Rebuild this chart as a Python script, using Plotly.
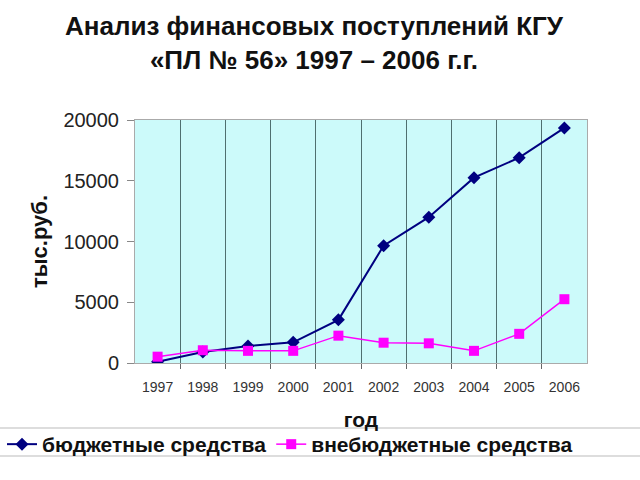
import plotly.graph_objects as go

years = [1997, 1998, 1999, 2000, 2001, 2002, 2003, 2004, 2005, 2006]
year_labels = [str(y) for y in years]
budget = [100, 900, 1400, 1700, 3550, 9650, 12000, 15250, 16900, 19350]
offbudget = [520, 1050, 1000, 1000, 2250, 1670, 1620, 1000, 2400, 5250]
y_ticks = [0, 5000, 10000, 15000, 20000]
boundaries = [y + 0.5 for y in years[:-1]]

W, H = 640, 480
L, R, T, B = 135, 53, 120, 117
pw, ph = W - L - R, H - T - B

def px_x(p):
    return (p - L) / pw

def px_y(p):
    return (H - B - p) / ph

fig = go.Figure()
fig.add_trace(go.Scatter(
    x=years, y=budget, name="бюджетные средства", mode="lines+markers",
    line=dict(color="#000080", width=2),
    marker=dict(symbol="diamond", size=10, color="#000080"),
))
fig.add_trace(go.Scatter(
    x=years, y=offbudget, name="внебюджетные средства", mode="lines+markers",
    line=dict(color="#FF00FF", width=1.5),
    marker=dict(symbol="square", size=10, color="#FF00FF"),
))

fig.update_layout(
    width=W, height=H,
    margin=dict(l=L, r=R, t=T, b=B, autoexpand=False),
    paper_bgcolor="white",
    plot_bgcolor="#CCFAFA",
    font=dict(family="Liberation Sans, Arial, sans-serif", color="#000"),
    showlegend=True,
    legend=dict(
        orientation="h", x=px_x(2), xanchor="left", y=px_y(424), yanchor="top",
        font=dict(size=21, color="#111", weight="bold"),
        bgcolor="rgba(255,255,255,0)", itemwidth=30, tracegroupgap=0,
    ),
    annotations=[
        dict(text="<b>Анализ финансовых поступлений КГУ<br>«ПЛ № 56» 1997 – 2006 г.г.</b>",
             xref="paper", yref="paper", x=px_x(314), y=px_y(9),
             xanchor="center", yanchor="top", showarrow=False,
             font=dict(size=26, color="#111")),
    ],
    shapes=[
        dict(type="line", xref="paper", yref="paper", x0=px_x(0), x1=px_x(640),
             y0=px_y(428), y1=px_y(428), line=dict(color="#BBBBBB", width=1)),
        dict(type="line", xref="paper", yref="paper", x0=px_x(0), x1=px_x(640),
             y0=px_y(456), y1=px_y(456), line=dict(color="#BBBBBB", width=1)),
    ],
)

fig.update_xaxes(
    range=[years[0] - 0.5, years[-1] + 0.5], automargin=False,
    tickvals=years, ticktext=year_labels,
    tickfont=dict(size=14, color="#333"),
    ticks="", showgrid=False, zeroline=False,
    showline=True, linecolor="#AAAAAA", linewidth=1, mirror=True,
    ticklabelstandoff=11,
    minor=dict(tickvals=boundaries, showgrid=True, gridcolor="#4F6F6F",
               gridwidth=1, ticks="outside", ticklen=5, tickcolor="#666"),
    title=dict(text="<b>год</b>", font=dict(size=21, color="#111"), standoff=18),
)
fig.update_yaxes(
    range=[0, 20000], tickvals=y_ticks, tickformat="d", automargin=False,
    tickfont=dict(size=20, color="#222"),
    ticks="outside", ticklen=7, tickcolor="#888",
    showgrid=False, zeroline=False,
    showline=True, linecolor="#AAAAAA", linewidth=1, mirror=True,
    ticklabelstandoff=4,
    title=dict(text="<b>тыс.руб.</b>", font=dict(size=22, color="#111"), standoff=9),
)

fig.write_html("out.html", config={"displayModeBar": False},
               post_script="document.body.style.margin='0';")
